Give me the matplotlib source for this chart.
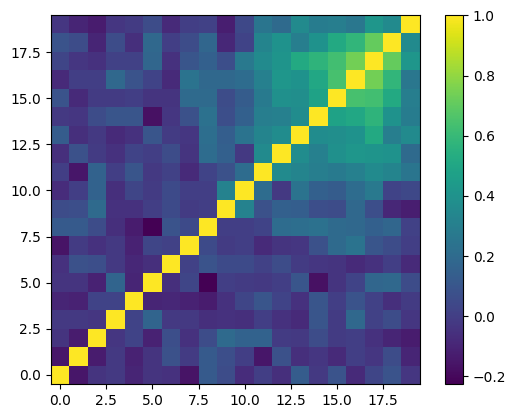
import numpy as np
import matplotlib
matplotlib.use("Agg")
import matplotlib.pyplot as plt

# Lower triangle of the correlation matrix (row i holds columns 0..i-1)
row_01 = [-0.15]
row_02 = [-0.04, -0.13]
row_03 = [-0.02, -0.02, -0.03]
row_04 = [-0.10, -0.11, 0.02, 0.02]
row_05 = [-0.04, -0.04, -0.11, 0.17, -0.10]
row_06 = [-0.05, 0.08, 0.07, -0.02, -0.09, -0.06]
row_07 = [-0.16, -0.01, -0.05, -0.02, -0.11, 0.03, 0.01]
row_08 = [0.12, 0.12, 0.06, -0.06, -0.13, -0.225, 0.09, 0.05]
row_09 = [0.06, 0.07, 0.20, -0.05, -0.05, 0.00, 0.05, -0.01, 0.00]
row_10 = [-0.07, 0.00, 0.16, -0.06, 0.03, -0.01, 0.05, 0.00, 0.00, 0.32]
row_11 = [0.00, -0.15, 0.16, 0.00, 0.10, -0.02, 0.01, -0.08, 0.02, 0.08, 0.21]
row_12 = [-0.06, 0.08, -0.01, -0.05, 0.02, 0.00, 0.06, -0.04, 0.21, 0.15, -0.02, 0.36]
row_13 = [0.13, -0.06, -0.02, -0.08, -0.05, 0.10, -0.01, -0.03, 0.22, 0.14, 0.24, 0.33, 0.37]
row_14 = [-0.02, -0.03, 0.06, 0.10, 0.10, -0.17, -0.03, 0.08, 0.23, 0.07, 0.15, 0.30, 0.31, 0.37]
row_15 = [0.09, -0.08, -0.01, -0.01, 0.00, -0.04, -0.04, 0.20, 0.20, 0.06, 0.13, 0.28, 0.39, 0.38,
          0.48]
row_16 = [-0.08, 0.00, 0.00, 0.19, 0.09, 0.02, -0.08, 0.24, 0.19, 0.19, 0.21, 0.31, 0.42, 0.40,
          0.51, 0.645]
row_17 = [0.03, -0.03, -0.05, 0.01, 0.01, 0.18, -0.05, 0.10, 0.15, 0.07, 0.27, 0.36, 0.41, 0.52,
          0.57, 0.63, 0.74]
row_18 = [0.09, 0.06, -0.10, 0.06, -0.06, 0.19, 0.00, 0.06, 0.18, -0.09, 0.02, 0.33, 0.40, 0.30,
          0.40, 0.52, 0.58, 0.71]
row_19 = [-0.03, -0.10, -0.13, -0.03, -0.01, 0.06, -0.08, 0.00, 0.01, -0.12, 0.04, 0.25, 0.20, 0.36,
          0.29, 0.30, 0.26, 0.42, 0.36]

rows = [row_01, row_02, row_03, row_04, row_05, row_06, row_07, row_08, row_09, row_10,
        row_11, row_12, row_13, row_14, row_15, row_16, row_17, row_18, row_19]

n = len(rows) + 1
corr = np.eye(n)
for i, r in enumerate(rows, start=1):
    assert len(r) == i
    for j, v in enumerate(r):
        corr[i, j] = v
        corr[j, i] = v

fig = plt.figure(figsize=(5.16, 4.18), dpi=100)
ax = fig.add_axes([0.0983, 0.0813, 0.7157, 0.882])
cax = fig.add_axes([0.8624, 0.0813, 0.0349, 0.882])

im = ax.imshow(corr, cmap="viridis", origin="lower")
fig.colorbar(im, cax=cax)

fig.savefig("out.png", dpi=100)
